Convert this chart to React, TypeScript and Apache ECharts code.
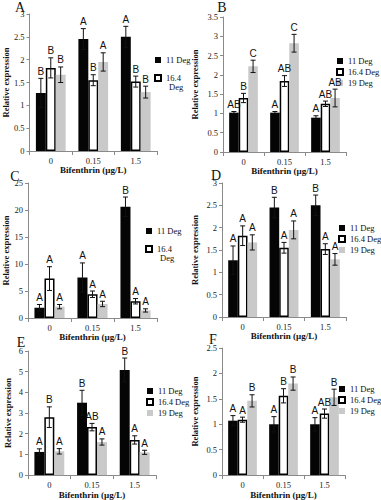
import React, { useEffect, useRef } from 'react';
import * as echarts from 'echarts';

const categories = ['0', '0.15', '1.5'];
const seriesNames = ['11 Deg', '16.4 Deg', '19 Deg'];
const panelLabels = ['A', 'B', 'C', 'D', 'E', 'F'];

// values per series [11 Deg, 16.4 Deg, 19 Deg] over categories
const meansA = [[1.27, 2.45, 2.5], [1.82, 1.55, 1.52], [1.67, 1.95, 1.29]];
const errA = [[0.32, 0.23, 0.23], [0.22, 0.12, 0.12], [0.17, 0.2, 0.13]];
const lettersA = [['B', 'A', 'A'], ['B', 'B', 'B'], ['B', 'A', 'B']];

const meansB = [[1.02, 1.02, 0.89], [1.4, 1.84, 1.25], [2.22, 2.82, 1.4]];
const errB = [[0.03, 0.03, 0.05], [0.12, 0.14, 0.07], [0.16, 0.23, 0.23]];
const lettersB = [['AB', 'A', 'A'], ['B', 'AB', 'AB'], ['C', 'C', 'AB']];

const meansC = [[1.9, 7.5, 20.6], [7.3, 4.4, 3.1], [2.1, 2.6, 1.4]];
const errC = [[0.6, 2.7, 1.8], [2.2, 0.6, 0.5], [0.4, 0.5, 0.3]];
const lettersC = [['A', 'A', 'B'], ['A', 'A', 'A'], ['A', 'A', 'A']];

const meansD = [[1.27, 2.45, 2.5], [1.82, 1.55, 1.52], [1.67, 1.95, 1.29]];
const errD = [[0.32, 0.23, 0.23], [0.22, 0.12, 0.12], [0.17, 0.2, 0.13]];
const lettersD = [['A', 'B', 'B'], ['A', 'A', 'A'], ['A', 'A', 'A']];

const meansE = [[1.12, 3.5, 5.08], [2.8, 2.32, 1.7], [1.15, 1.6, 1.1]];
const errE = [[0.15, 0.6, 0.58], [0.5, 0.18, 0.2], [0.13, 0.15, 0.1]];
const lettersE = [['A', 'B', 'B'], ['B', 'AB', 'A'], ['A', 'A', 'A']];

const meansF = [[1.07, 1.0, 1.0], [1.09, 1.56, 1.21], [1.46, 1.8, 1.53]];
const errF = [[0.1, 0.15, 0.13], [0.05, 0.14, 0.09], [0.12, 0.13, 0.16]];
const lettersF = [['A', 'A', 'A'], ['A', 'B', 'AB'], ['B', 'B', 'B']];

const yMaxes = [3, 3.5, 25, 3, 6, 2.5];
const yIntervals = [0.5, 0.5, 5, 0.5, 1, 0.5];

const panels = [
  { means: meansA, errs: errA, letters: lettersA },
  { means: meansB, errs: errB, letters: lettersB },
  { means: meansC, errs: errC, letters: lettersC },
  { means: meansD, errs: errD, letters: lettersD },
  { means: meansE, errs: errE, letters: lettersE },
  { means: meansF, errs: errF, letters: lettersF },
];

// layout (pixels)
const grids = [
  { left: 28, top: 14, width: 129, height: 137 },
  { left: 223, top: 17, width: 123, height: 135 },
  { left: 28, top: 183, width: 129, height: 135 },
  { left: 222, top: 183, width: 124, height: 134 },
  { left: 28, top: 351, width: 128, height: 125 },
  { left: 222, top: 348, width: 123, height: 128 },
];
const legendPos = [
  { left: 154, top: 55, items: 2 },
  { left: 336, top: 56, items: 3 },
  { left: 145, top: 226, items: 2 },
  { left: 338, top: 223, items: 3 },
  { left: 146, top: 386, items: 3 },
  { left: 338, top: 384, items: 3 },
];
const letterPos = [
  [20, 7], [222, 7], [15, 176], [216, 175], [21, 342], [213, 339],
];
const yNameGaps = [16, 24, 16, 23, 16, 23];
const xNameGaps = [10, 10, 10, 10, 13, 13];

const SERIF = '"Liberation Serif", "Times New Roman", serif';
const SANS = '"Liberation Sans", Arial, sans-serif';
const GAP = 0.3;

const barStyles = [
  { color: '#050505' },
  { color: '#ffffff', borderColor: '#000000', borderWidth: 1.5 },
  { color: '#c9c9c9' },
];

export default function App() {
  const ref = useRef<HTMLDivElement>(null);
  useEffect(() => {
    if (!ref.current) return;
    const chart = echarts.init(ref.current, null, { renderer: 'svg' });
    const grid: any[] = [];
    const xAxis: any[] = [];
    const yAxis: any[] = [];
    const series: any[] = [];
    const legend: any[] = [];
    const graphic: any[] = [];

    panels.forEach((p, pi) => {
      grid.push({ ...grids[pi], containLabel: false });
      xAxis.push({
        type: 'category',
        gridIndex: pi,
        data: categories,
        name: 'Bifenthrin (µg/L)',
        nameLocation: 'middle',
        nameGap: xNameGaps[pi],
        nameTextStyle: { fontFamily: SERIF, fontWeight: 'bold', fontSize: 9, color: '#111' },
        axisLine: { lineStyle: { color: '#8a8a8a', width: 1 } },
        axisTick: { show: true, length: 4, lineStyle: { color: '#8a8a8a' } },
        axisLabel: { fontFamily: SERIF, fontSize: 8.5, color: '#222', margin: 5 },
      });
      yAxis.push({
        type: 'value',
        gridIndex: pi,
        min: 0,
        max: yMaxes[pi],
        interval: yIntervals[pi],
        name: 'Relative expression',
        nameLocation: 'middle',
        nameGap: yNameGaps[pi],
        nameTextStyle: { fontFamily: SERIF, fontWeight: 'bold', fontSize: 8.5, color: '#111' },
        splitLine: { show: false },
        axisLine: { show: true, lineStyle: { color: '#8a8a8a', width: 1 } },
        axisTick: { show: true, length: 3, lineStyle: { color: '#8a8a8a' } },
        axisLabel: { fontFamily: SERIF, fontSize: 8.5, color: '#222', margin: 5 },
      });
      seriesNames.forEach((name, si) => {
        series.push({
          type: 'bar',
          name,
          xAxisIndex: pi,
          yAxisIndex: pi,
          data: p.means[si],
          barGap: '0%',
          barCategoryGap: GAP * 100 + '%',
          itemStyle: barStyles[si],
        });
      });
      const errData: number[][] = [];
      seriesNames.forEach((_, si) => {
        categories.forEach((_c, ci) => {
          errData.push([ci, si, p.means[si][ci], p.errs[si][ci]]);
        });
      });
      series.push({
        type: 'custom',
        name: 'err' + pi,
        xAxisIndex: pi,
        yAxisIndex: pi,
        z: 5,
        encode: { x: 0, y: 2 },
        data: errData,
        renderItem: (params: any, api: any) => {
          const ci = api.value(0);
          const si = api.value(1);
          const v = api.value(2);
          const e = api.value(3);
          const catW = api.size([1, 0])[0];
          const barW = (catW * (1 - GAP)) / 3;
          const x = api.coord([ci, v])[0] + (si - 1) * barW;
          const yTop = api.coord([ci, v + e])[1];
          const yBot = api.coord([ci, v - e])[1];
          const cap = 2.5;
          const ls = { stroke: '#111', lineWidth: 1 };
          return {
            type: 'group',
            children: [
              { type: 'line', shape: { x1: x, y1: yTop, x2: x, y2: yBot }, style: ls },
              { type: 'line', shape: { x1: x - cap, y1: yTop, x2: x + cap, y2: yTop }, style: ls },
              { type: 'line', shape: { x1: x - cap, y1: yBot, x2: x + cap, y2: yBot }, style: ls },
              {
                type: 'text',
                x,
                y: yTop - 2,
                style: {
                  text: p.letters[si][ci],
                  fontFamily: SANS,
                  fontSize: 10,
                  fill: '#111',
                  align: 'center',
                  verticalAlign: 'bottom',
                },
              },
            ],
          };
        },
      });
      const lp = legendPos[pi];
      const two = lp.items === 2;
      legend.push({
        orient: 'vertical',
        left: lp.left,
        top: lp.top,
        padding: 0,
        icon: 'rect',
        itemWidth: 6,
        itemHeight: 6,
        itemGap: two ? 8 : 1,
        data: seriesNames.slice(0, lp.items),
        formatter: (n: string) => (two && n === '16.4 Deg' ? '16.4' : n),
        textStyle: { fontFamily: SERIF, fontSize: 8.5, color: '#111', lineHeight: 10 },
        selectedMode: false,
      });
      if (two) {
        graphic.push({
          type: 'text',
          x: lp.left + 15,
          y: lp.top + 32,
          style: {
            text: 'Deg',
            fontFamily: SERIF,
            fontSize: 8.5,
            fill: '#111',
            align: 'left',
            verticalAlign: 'middle',
          },
        });
      }
      graphic.push({
        type: 'text',
        x: letterPos[pi][0],
        y: letterPos[pi][1],
        style: {
          text: panelLabels[pi],
          fontFamily: SERIF,
          fontSize: 14,
          fill: '#111',
          align: 'center',
          verticalAlign: 'middle',
        },
      });
    });

    chart.setOption({
      animation: false,
      backgroundColor: '#ffffff',
      grid,
      xAxis,
      yAxis,
      series,
      legend,
      graphic,
    });
    return () => chart.dispose();
  }, []);
  return (
    <div
      ref={ref}
      style={{ position: 'absolute', left: 0, top: 0, width: 381, height: 500 }}
    />
  );
}
